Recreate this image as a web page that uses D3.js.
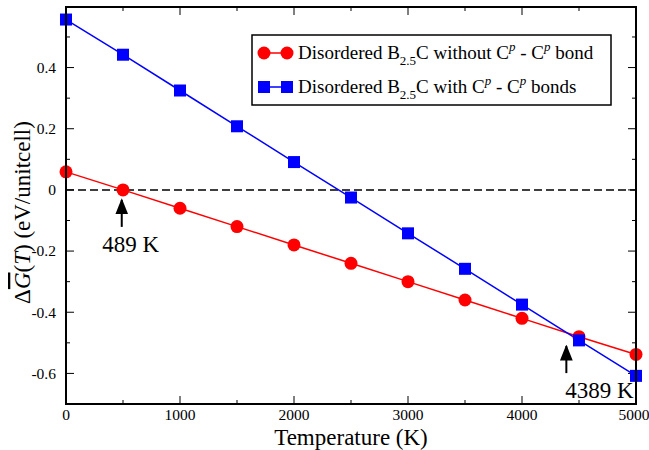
<!DOCTYPE html>
<html>
<head>
<meta charset="utf-8">
<script src="https://cdn.jsdelivr.net/npm/d3@7"></script>
<style>
body { margin: 0; background: #fff; }
</style>
</head>
<body>
<svg width="649" height="450"></svg>
<script>
var temps = [0, 500, 1000, 1500, 2000, 2500, 3000, 3500, 4000, 4500, 5000];
var noBond = [0.059, 0.0, -0.06, -0.12, -0.18, -0.24, -0.30, -0.36, -0.42, -0.48, -0.538];
var withBond = [0.557, 0.442, 0.325, 0.208, 0.091, -0.025, -0.142, -0.258, -0.375, -0.492, -0.608];
var xTicks = [0, 1000, 2000, 3000, 4000, 5000];
var yTicks = [-0.6, -0.4, -0.2, 0, 0.2, 0.4];
var crossings = [{t: 489, v: 0, label: "489 K"}, {t: 4389, v: -0.478, label: "4389 K"}];

var svg = d3.select("svg"),
  margin = {top: 7, right: 13, bottom: 46, left: 66},
  width = +svg.attr("width") - margin.left - margin.right,
  height = +svg.attr("height") - margin.top - margin.bottom;

var x = d3.scaleLinear().domain([0, 5000]).range([0, width]);
var y = d3.scaleLinear().domain([-0.7, 0.598]).range([height, 0]);

var g = svg.append("g")
  .attr("transform", "translate(" + margin.left + "," + margin.top + ")");

// zero line
g.append("line")
  .attr("x1", 0).attr("x2", width)
  .attr("y1", y(0)).attr("y2", y(0))
  .attr("stroke", "#000").attr("stroke-width", 1.5)
  .attr("stroke-dasharray", "8,4");

// ticks inside on all four sides
var xMinor = d3.range(500, 5000, 1000);
var yMinor = d3.range(-7, 6, 2).map(function(d) { return d / 10; });
xTicks.forEach(function(v) {
  g.append("line").attr("x1", x(v)).attr("x2", x(v)).attr("y1", height).attr("y2", height - 8).attr("stroke", "#000");
  g.append("line").attr("x1", x(v)).attr("x2", x(v)).attr("y1", 0).attr("y2", 8).attr("stroke", "#000");
  g.append("text").attr("x", v === 5000 ? x(v) - 2 : x(v)).attr("y", height + 16).attr("text-anchor", "middle")
    .attr("font-size", 15.5).text(v);
});
xMinor.forEach(function(v) {
  g.append("line").attr("x1", x(v)).attr("x2", x(v)).attr("y1", height).attr("y2", height - 4).attr("stroke", "#000");
  g.append("line").attr("x1", x(v)).attr("x2", x(v)).attr("y1", 0).attr("y2", 4).attr("stroke", "#000");
});
yTicks.forEach(function(v) {
  g.append("line").attr("x1", 0).attr("x2", 8).attr("y1", y(v)).attr("y2", y(v)).attr("stroke", "#000");
  g.append("line").attr("x1", width).attr("x2", width - 8).attr("y1", y(v)).attr("y2", y(v)).attr("stroke", "#000");
  g.append("text").attr("x", -10).attr("y", y(v)).attr("dy", "0.35em").attr("text-anchor", "end")
    .attr("font-size", 15.5).text(v === 0 ? "0" : d3.format(".1f")(v).replace("\u2212", "-"));
});
yMinor.forEach(function(v) {
  g.append("line").attr("x1", 0).attr("x2", 4).attr("y1", y(v)).attr("y2", y(v)).attr("stroke", "#000");
  g.append("line").attr("x1", width).attr("x2", width - 4).attr("y1", y(v)).attr("y2", y(v)).attr("stroke", "#000");
});

var line = d3.line()
  .x(function(d) { return x(d[0]); })
  .y(function(d) { return y(d[1]); });

var red = temps.map(function(t, i) { return [t, noBond[i]]; });
var blue = temps.map(function(t, i) { return [t, withBond[i]]; });

g.append("path").datum(red).attr("d", line).attr("fill", "none").attr("stroke", "#f00").attr("stroke-width", 1.5);
g.append("path").datum(blue).attr("d", line).attr("fill", "none").attr("stroke", "#00f").attr("stroke-width", 1.5);

g.selectAll(null).data(red).enter().append("circle")
  .attr("cx", function(d) { return x(d[0]); })
  .attr("cy", function(d) { return y(d[1]); })
  .attr("r", 6.5).attr("fill", "#f00");
g.selectAll(null).data(blue).enter().append("rect")
  .attr("x", function(d) { return x(d[0]) - 6; })
  .attr("y", function(d) { return y(d[1]) - 6; })
  .attr("width", 12).attr("height", 12).attr("fill", "#00f");

// frame
g.append("rect").attr("width", width).attr("height", height)
  .attr("fill", "none").attr("stroke", "#000").attr("stroke-width", 2);

// arrows
svg.append("defs").append("marker")
  .attr("id", "ah").attr("viewBox", "0 0 10 10").attr("refX", 9).attr("refY", 5)
  .attr("markerWidth", 8).attr("markerHeight", 8).attr("orient", "auto")
  .append("path").attr("d", "M0,1 L10,5 L0,9 Z").attr("fill", "#000");

crossings.forEach(function(c, i) {
  var cx = x(c.t);
  var top = y(c.v) + 10;
  g.append("line").attr("x1", cx).attr("x2", cx).attr("y1", top + 27).attr("y2", top)
    .attr("stroke", "#000").attr("stroke-width", 2).attr("marker-end", "url(#ah)");
  g.append("text").attr("x", i === 0 ? cx + 9 : cx + 33).attr("y", top + 52)
    .attr("text-anchor", "middle").attr("font-size", 23).text(c.label);
});

// legend
var leg = svg.append("g").attr("transform", "translate(252,35)");
leg.append("rect").attr("width", 359).attr("height", 70)
  .attr("fill", "#fff").attr("stroke", "#000").attr("stroke-width", 1.5);
var legItems = [
  {color: "#f00", shape: "circle", mid: "C without C", tail: " bond"},
  {color: "#00f", shape: "square", mid: "C with C", tail: " bonds"}
];
legItems.forEach(function(d, i) {
  var yy = 18 + i * 34;
  leg.append("line").attr("x1", 12).attr("x2", 35).attr("y1", yy).attr("y2", yy)
    .attr("stroke", d.color).attr("stroke-width", 1.5);
  [12, 35].forEach(function(px) {
    if (d.shape === "circle") {
      leg.append("circle").attr("cx", px).attr("cy", yy).attr("r", 6.5).attr("fill", d.color);
    } else {
      leg.append("rect").attr("x", px - 6).attr("y", yy - 6).attr("width", 12).attr("height", 12).attr("fill", d.color);
    }
  });
  var t = leg.append("text").attr("x", 46).attr("y", yy + 6).attr("font-size", 19);
  t.append("tspan").text("Disordered B");
  t.append("tspan").attr("dy", 6).attr("font-size", 13).text("2.5");
  t.append("tspan").attr("dy", -6).text(d.mid);
  t.append("tspan").attr("dy", -8).attr("font-size", 13).attr("font-style", "italic").text("p");
  t.append("tspan").attr("dy", 8).text(" - C");
  t.append("tspan").attr("dy", -8).attr("font-size", 13).attr("font-style", "italic").text("p");
  t.append("tspan").attr("dy", 8).text(d.tail);
});

// axis titles
svg.append("text").attr("x", margin.left + width / 2).attr("y", 445)
  .attr("text-anchor", "middle").attr("font-size", 23).text("Temperature (K)");

var yl = svg.append("text")
  .attr("transform", "translate(30," + (margin.top + height / 2 + 7) + ") rotate(-90)")
  .attr("text-anchor", "middle").attr("font-size", 23);
yl.append("tspan").text("\u0394");
yl.append("tspan").attr("font-style", "italic").attr("text-decoration", "overline").text("G");
yl.append("tspan").text("(");
yl.append("tspan").attr("font-style", "italic").text("T");
yl.append("tspan").text(") (eV/unitcell)");

svg.selectAll("text").style("font-family", "Liberation Serif");
</script>
</body>
</html>
